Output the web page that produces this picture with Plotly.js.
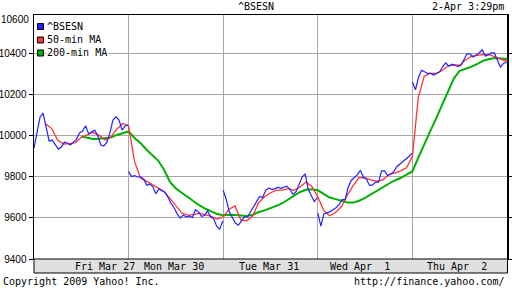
<!DOCTYPE html>
<html>
<head>
<meta charset="utf-8">
<script src="https://cdn.plot.ly/plotly-3.0.1.min.js"></script>
<style>html,body{margin:0;padding:0;background:#fff;}#chart{width:512px;height:288px;}</style>
</head>
<body>
<div id="chart"></div>
<script>
// ---- data ----
const dayLabels = ['Fri Mar 27', 'Mon Mar 30', 'Tue Mar 31', 'Wed Apr  1', 'Thu Apr  2'];
const yTicks = [9400, 9600, 9800, 10000, 10200, 10400, 10600];
const seriesNames = ['^BSESN', '50-min MA', '200-min MA'];

// ^BSESN index, one array per trading day (evenly spaced through the session)
const blueFri = [9941,10015,10093,10112,10049,9975,9980,9956,9936,9946,9970,9966,9956,9970,9985,10015,10024,10049,10010,10020,10029,10000,9956,9951,9970,10015,10078,10093,10078,10029,10049,10053];
const blueMon = [9826,9802,9806,9800,9800,9789,9760,9765,9752,9718,9742,9735,9725,9700,9670,9650,9620,9600,9615,9605,9610,9602,9640,9630,9608,9612,9635,9605,9598,9560,9545,9585];
const blueTue = [9735,9690,9630,9600,9575,9565,9585,9605,9605,9630,9655,9678,9705,9700,9735,9745,9740,9742,9750,9745,9752,9755,9738,9715,9728,9760,9800,9815,9740,9710,9680,9700];
const blueWed = [9625,9560,9620,9625,9630,9640,9650,9665,9690,9690,9750,9783,9795,9810,9833,9800,9790,9760,9760,9775,9775,9830,9830,9806,9815,9825,9850,9862,9875,9888,9900,9915];
const blueThu = [10263,10225,10285,10320,10313,10305,10305,10297,10305,10313,10340,10356,10340,10350,10345,10338,10345,10370,10402,10400,10385,10395,10405,10420,10390,10395,10405,10405,10370,10335,10355,10358];

// moving averages sampled every 1/16 of a trading day
const ma50Start = 2;   // first sample index (in 1/16 day)
const ma50 = [10058,10036,9980,9961,9963,9968,9994,10005,10017,10004,9981,9994,10033,10061,10049,
  9876,9795,9780,9763,9742,9729,9696,9659,9624,9614,9616,9624,9616,9608,9595,
  9605,9643,9659,9589,9586,9611,9675,9704,9723,9736,9736,9743,9735,9751,9775,9754,
  9703,9637,9611,9627,9656,9711,9759,9798,9795,9786,9779,9786,9811,9819,9830,9845,
  9900,10188,10292,10305,10305,10318,10342,10347,10345,10372,10388,10393,10397,10397,10385,10372,10363];
const ma200Start = 8;
const ma200 = [9997,9990,9985,9987,9990,9993,10005,10013,10022,
  9990,9966,9934,9909,9880,9835,9776,9744,9723,9699,9680,9661,9645,9632,9619,
  9613,9616,9614,9611,9610,9616,9629,9637,9650,9659,9672,9690,9710,9727,9738,9740,
  9735,9716,9700,9692,9684,9676,9675,9684,9698,9716,9732,9751,9767,9783,9795,9811,
  9827,9894,9954,10022,10085,10152,10218,10280,10318,10328,10338,10352,10367,10375,10380,10378,10375];

// ---- build traces ----
const blueDays = [blueFri, blueMon, blueTue, blueWed, blueThu];
const bx = [], by = [];
blueDays.forEach((arr, d) => {
  arr.forEach((v, i) => { bx.push(d + i / (arr.length - 1) * 0.995); by.push(v); });
  bx.push(null); by.push(null);
});
const step = 1 / 16;
const rx = ma50.map((v, i) => (ma50Start + i) * step);
const gx = ma200.map((v, i) => (ma200Start + i) * step);

const cBlue = '#2323ff', cRed = '#ff3333', cGreen = '#00b000';
const traces = [
  {x: gx, y: ma200, type: 'scatter', mode: 'lines', name: seriesNames[2], line: {color: cGreen, width: 2}, hoverinfo: 'skip'},
  {x: rx, y: ma50, type: 'scatter', mode: 'lines', name: seriesNames[1], line: {color: cRed, width: 1.3}, hoverinfo: 'skip'},
  {x: bx, y: by, type: 'scatter', mode: 'lines', name: seriesNames[0], line: {color: cBlue, width: 1.2}, connectgaps: false, hoverinfo: 'skip'}
];

// ---- layout helpers (pixel -> paper) ----
const L = 34, T = 15, W = 473, H = 244;
const pX = px => (px - L) / W;
const pY = py => (T + H - py) / H;
const mono = {family: 'DejaVu Sans Mono, monospace', size: 10, color: '#000'};
const tickFont = {family: 'Liberation Sans, Arial, sans-serif', size: 10, color: '#000'};

const annotations = [];
const shapes = [];
// title & timestamp
annotations.push({xref: 'paper', yref: 'paper', x: pX(256), y: pY(7), text: '^BSESN', showarrow: false, xanchor: 'center', yanchor: 'middle', font: mono});
annotations.push({xref: 'paper', yref: 'paper', x: pX(506), y: pY(7), text: '2-Apr 3:29pm', showarrow: false, xanchor: 'right', yanchor: 'middle', font: mono});
// footer
annotations.push({xref: 'paper', yref: 'paper', x: pX(1), y: pY(281), text: 'Copyright 2009 Yahoo! Inc.', showarrow: false, xanchor: 'left', yanchor: 'middle', font: mono});
annotations.push({xref: 'paper', yref: 'paper', x: pX(507), y: pY(281), text: 'http://finance.yahoo.com/', showarrow: false, xanchor: 'right', yanchor: 'middle', font: mono});
// top y label (clipped by range in the original)
annotations.push({xref: 'paper', yref: 'paper', x: pX(30), y: pY(20), text: String(yTicks[yTicks.length - 1]), showarrow: false, xanchor: 'right', yanchor: 'middle', font: tickFont, borderpad: 0});
// x band
shapes.push({type: 'rect', xref: 'paper', yref: 'paper', x0: pX(34), x1: pX(507.5), y0: pY(273), y1: pY(259), fillcolor: '#e0e0e0', line: {color: '#000', width: 1}, layer: 'above'});
const dayLabelX = [0.755, 1.48, 2.48, 3.45, 4.47];
dayLabels.forEach((t, i) => {
  annotations.push({xref: 'x', yref: 'paper', x: dayLabelX[i], y: pY(266.5), text: t.replace(/ /g, '\u00a0'), showarrow: false, xanchor: 'center', yanchor: 'middle', font: mono});
});
// legend
const legColors = [cBlue, cRed, cGreen];
const legY = [26.5, 40, 53];
seriesNames.forEach((n, i) => {
  shapes.push({type: 'rect', xref: 'paper', yref: 'paper', x0: pX(37.5), x1: pX(43.5), y0: pY(legY[i] + 3), y1: pY(legY[i] - 3), fillcolor: legColors[i], line: {color: '#000', width: 1}, layer: 'above'});
  annotations.push({xref: 'paper', yref: 'paper', x: pX(46), y: pY(legY[i]), text: n, showarrow: false, xanchor: 'left', yanchor: 'middle', font: mono, bgcolor: '#fff', borderpad: 0});
});

const layout = {
  width: 512, height: 288,
  margin: {l: L, r: 512 - L - W, t: T, b: 288 - T - H, pad: 0},
  paper_bgcolor: '#fff', plot_bgcolor: '#fff',
  showlegend: false,
  xaxis: {range: [0, 5], tickvals: [1, 2, 3, 4], showticklabels: false, ticks: '', showgrid: true, gridcolor: '#a8a8a8', gridwidth: 1,
          showline: true, linecolor: '#000', linewidth: 1, mirror: true, zeroline: false, fixedrange: true},
  yaxis: {range: [9400, 10590], tickvals: yTicks, ticktext: yTicks.map(String), ticks: 'outside', ticklen: 4, tickcolor: '#000',
          showgrid: true, gridcolor: '#a8a8a8', gridwidth: 1, showline: true, linecolor: '#000', linewidth: 1.5, mirror: 'ticks',
          zeroline: false, tickfont: tickFont, ticklabelstandoff: 0, fixedrange: true},
  annotations: annotations,
  shapes: shapes
};
Plotly.newPlot('chart', traces, layout, {staticPlot: true, displayModeBar: false});
</script>
</body>
</html>
